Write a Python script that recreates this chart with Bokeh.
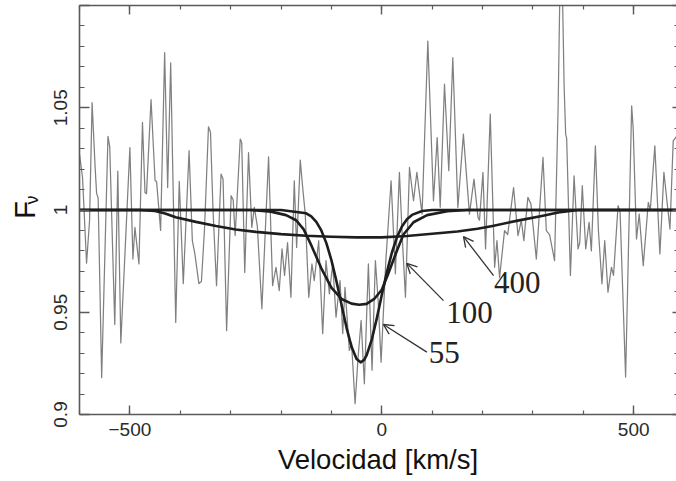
import math
from bokeh.plotting import figure
from bokeh.models import (Range1d, LinearAxis, SingleIntervalTicker, CustomJSTickFormatter,
                          Label, Arrow, OpenHead, Title)
from bokeh.embed import file_html
from bokeh.resources import INLINE

# ---------------- data ----------------
vel_obs = [-601, -594, -586, -580, -575, -569, -566, -563, -556, -543.5, -540, -530, -524, -518,
           -500, -494, -490, -482, -475, -470, -467, -458, -450, -447, -439, -431, -425, -419,
           -409, -402, -394, -382.5, -376, -371, -363, -358, -352, -344, -340, -335, -328, -319,
           -315, -308, -299, -295, -291, -281, -278, -272, -264.5, -258, -253, -247, -238, -224.7,
           -216.7, -210, -203.5, -198, -193, -187, -180.3, -173.7, -169, -161.8, -157, -151.9,
           -145, -138.6, -134, -125.2, -117.3, -110.7, -104, -97.4, -90.8, -82.9, -77.5, -73,
           -64.4, -60, -53, -47, -41, -34.6, -26.6, -19.3, -12.7, -7, -1.4, 8, 18.5, 27, 35, 41,
           47, 55, 63, 69.6, 80, 91.4, 102.6, 110, 116, 124.5, 133, 141, 151, 162, 174, 183, 191,
           194, 200.8, 206, 215.3, 224, 228.6, 233.8, 243.7, 250, 261.6, 270.4, 277, 282, 290,
           296, 306.8, 320, 326.6, 333, 343, 350, 354, 358, 362, 365, 367, 374.4, 381.7, 389.6,
           393, 398, 404.8, 411.5, 416, 424, 430, 437, 442.5, 449, 455.8, 460, 469, 473, 484,
           496, 499, 505.6, 511, 519, 529, 533, 542, 552, 560, 572, 578.5, 585]
flux_obs = [1.029, 1.016, 0.974, 0.995, 1.0525, 1.021, 1.008, 1.006, 0.918, 1.036, 1.031, 0.944,
            1.019, 0.935, 1.0305, 0.976, 0.9915, 0.9736, 1.0428, 1.0086, 1.008, 1.054, 1.0143,
            1.014, 0.990, 1.077, 1.011, 1.072, 0.945, 1.014, 0.964, 1.029, 0.985, 0.9785, 0.964,
            0.965, 0.99, 1.0407, 1.038, 1.0, 0.963, 1.0176, 1.015, 0.941, 1.007, 1.005, 0.9875,
            1.0347, 1.033, 0.9695, 1.028, 0.9915, 1.0013, 0.992, 0.9517, 1.026, 0.963, 0.972,
            0.9606, 0.981, 0.968, 0.984, 0.9573, 1.0143, 0.9817, 1.0244, 1.011, 0.998, 0.9573,
            0.9736, 0.9655, 0.985, 0.9395, 0.9753, 0.959, 0.9736, 0.9476, 0.9655, 0.9395, 0.9622,
            0.9313, 0.935, 0.9053, 0.928, 0.946, 0.915, 0.9736, 0.9216, 0.9753, 0.955, 0.9256,
            0.975, 1.0143, 0.9688, 1.0184, 0.985, 0.9573, 1.0208, 1.0045, 1.0184, 0.998, 1.0826,
            1.0045, 1.0354, 1.0013, 1.0615, 1.0192, 1.0745, 1.0013, 1.0371, 0.998, 1.0151, 0.9964,
            0.995, 1.0184, 0.981, 1.0469, 0.972, 0.985, 0.967, 0.9899, 0.988, 1.011, 0.9875, 0.995,
            0.985, 1.0062, 1.003, 0.976, 1.0257, 0.9899, 0.988, 0.9753, 1.05, 1.115, 1.115, 1.06,
            1.037, 1.035, 0.968, 1.0167, 0.981, 0.984, 1.0119, 0.981, 0.994, 0.980, 1.0314, 0.99,
            0.9639, 0.985, 0.9598, 0.972, 0.968, 1.0021, 0.999, 0.9183, 1.0509, 1.040, 0.9858,
            0.998, 0.9728, 1.0037, 1.0, 1.0314, 0.9785, 1.0184, 0.9907, 1.0338, 1.036]

vel_b55 = [-600, -200, -150, -140, -130, -120, -110, -100, -90, -80, -70, -60, -50, -42, -35,
           -30, -20, -10, 0, 10, 20, 30, 40, 50, 60, 80, 100, 600]
flux_b55 = [1.0, 1.0, 0.9984, 0.9969, 0.9942, 0.9900, 0.9838, 0.9755, 0.9652, 0.9538, 0.9425,
            0.9331, 0.9271, 0.9255, 0.9267, 0.9290, 0.9365, 0.9469, 0.9584, 0.9695, 0.9791,
            0.9866, 0.9919, 0.9955, 0.9976, 0.9995, 1.0, 1.0]

vel_b100 = [-600, -260, -220, -190, -170, -155, -140, -120, -100, -80, -60, -45, -30, -15, 0,
            13, 30, 43, 63, 90, 130, 170, 600]
flux_b100 = [1.0, 1.0, 0.9992, 0.9975, 0.9950, 0.9905, 0.9828, 0.9715, 0.9620, 0.9565, 0.9542,
             0.9537, 0.9541, 0.9565, 0.9610, 0.9690, 0.9801, 0.9880, 0.9940, 0.9975, 0.9994,
             1.0, 1.0]

vel_b400 = [-600, -480, -450, -430, -409, -369, -329, -290, -250, -200, -150, -100, -50, 0, 50,
            100, 150, 190, 220, 270, 320, 350, 390, 600]
flux_b400 = [1.0, 1.0, 0.9995, 0.9983, 0.9965, 0.9942, 0.9922, 0.9905, 0.9893, 0.9882, 0.9874,
             0.9869, 0.9866, 0.9866, 0.9873, 0.9884, 0.9895, 0.9908, 0.9922, 0.9948, 0.9972,
             0.9988, 1.0, 1.0]

model_labels = ["55", "100", "400"]
x_label = "Velocidad [km/s]"
y_label_main = "F"
y_label_sub = "\u03bd"

# ---------------- figure ----------------
p = figure(width=676, height=481, output_backend="svg", toolbar_location=None,
           x_range=Range1d(-600, 585), y_range=Range1d(0.9, 1.1),
           min_border_left=79, min_border_right=0, min_border_top=5, min_border_bottom=67,
           background_fill_color="white", border_fill_color="white")
p.grid.visible = False
p.outline_line_color = None

AX = "#5a5a5a"
LBL = "#2a2a2a"

xfmt = CustomJSTickFormatter(code="const v = Math.round(tick); return v < 0 ? '\\u2212' + Math.abs(v) : String(v);")
yfmt = CustomJSTickFormatter(code="return tick > 1.08 ? '' : String(parseFloat(tick.toFixed(2)));")
blank = CustomJSTickFormatter(code="return '';")


def style(ax, major_in, minor_in, line=True):
    ax.major_tick_in = major_in
    ax.major_tick_out = 0
    ax.minor_tick_in = minor_in
    ax.minor_tick_out = 0
    ax.axis_line_color = AX if line else None
    ax.axis_line_width = 1.6
    ax.major_tick_line_color = AX
    ax.minor_tick_line_color = AX
    ax.major_tick_line_width = 1.4
    ax.minor_tick_line_width = 1.2


xb = p.xaxis[0]
xb.ticker = SingleIntervalTicker(interval=500, num_minor_ticks=5)
xb.formatter = xfmt
style(xb, 9, 4)
xb.major_label_text_font = "Liberation Sans"
xb.major_label_text_font_size = "19px"
xb.major_label_text_color = LBL
xb.major_label_standoff = 8
xb.axis_label = x_label
xb.axis_label_text_font = "Liberation Sans"
xb.axis_label_text_font_size = "27.5px"
xb.axis_label_text_font_style = "normal"
xb.axis_label_text_color = "#111111"
xb.axis_label_standoff = 5

yl = p.yaxis[0]
yl.ticker = SingleIntervalTicker(interval=0.05, num_minor_ticks=5)
yl.formatter = yfmt
style(yl, 10, 5)
yl.major_label_text_font = "Liberation Sans"
yl.major_label_text_font_size = "19px"
yl.major_label_text_color = LBL
yl.major_label_orientation = "parallel"
yl.major_label_standoff = 13
yl.axis_label = y_label_main
yl.axis_label_text_font = "Liberation Sans"
yl.axis_label_text_font_size = "29px"
yl.axis_label_text_font_style = "normal"
yl.axis_label_text_color = "#111111"
yl.axis_label_standoff = 10

xt = LinearAxis(ticker=SingleIntervalTicker(interval=500, num_minor_ticks=5), formatter=blank,
                major_label_text_font_size="0px", major_label_standoff=0)
style(xt, 9, 4)
p.add_layout(xt, "above")

yr = LinearAxis(ticker=SingleIntervalTicker(interval=0.05, num_minor_ticks=5), formatter=blank,
                major_label_text_font_size="0px", major_label_standoff=0)
style(yr, 4, 2, line=False)
p.add_layout(yr, "right")

# subscript of the y-axis label, as a side-panel title pulled back next to the "F"
sub = Title(text=y_label_sub, text_font="Liberation Sans", text_font_size="18px",
            text_font_style="normal", text_color="#111111", align="left",
            vertical_align="bottom", offset=210, standoff=-73)
p.add_layout(sub, "left")

# ---------------- data lines ----------------
p.line(vel_obs, flux_obs, line_color="#808080", line_width=1.25, line_join="round")
for vx, fy in ((vel_b400, flux_b400), (vel_b100, flux_b100), (vel_b55, flux_b55)):
    p.line(vx, fy, line_color="#1e1e1e", line_width=2.6, line_join="round", line_cap="round")

# ---------------- annotations ----------------
arrows = [  # (tail_x, tail_y, head_x, head_y)
    (89.5, 0.9305, 3.2, 0.9440),
    (122.5, 0.9557, 49.7, 0.9739),
    (221.9, 0.9679, 162.2, 0.9870),
]
label_pos = [(124, 0.9301), (174, 0.9499), (269, 0.9645)]
for (tx, ty, hx, hy), txt, (lx, ly) in zip(arrows, model_labels, label_pos):
    p.add_layout(Arrow(x_start=tx, y_start=ty, x_end=hx, y_end=hy, line_color="#333333",
                       line_width=1.3, end=OpenHead(size=10, line_color="#333333", line_width=1.3)))
    p.add_layout(Label(x=lx, y=ly, text=txt, text_font="Liberation Serif", text_font_size="31px",
                       text_color="#222222", text_align="center", text_baseline="middle"))

open("out.html", "w", encoding="utf-8").write(file_html(p, INLINE))
